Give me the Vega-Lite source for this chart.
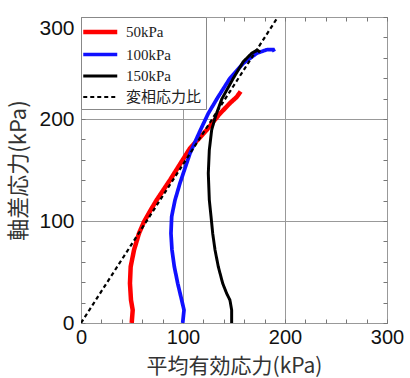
{
  "$schema": "https://vega.github.io/schema/vega-lite/v6.json",
  "autosize": {"type": "none"},
  "padding": {"left": 81, "top": 17, "right": 23, "bottom": 55},
  "width": 306,
  "height": 306,
  "background": "white",
  "config": {
    "view": {"stroke": "#777", "strokeWidth": 1},
    "axis": {"domain": false}
  },
  "data": {
    "values": [
      {"s": "50kPa", "i": 0, "p": 49.7, "q": 0},
      {"s": "50kPa", "i": 1, "p": 50.7, "q": 12.7},
      {"s": "50kPa", "i": 2, "p": 49, "q": 22.5},
      {"s": "50kPa", "i": 3, "p": 48, "q": 38.9},
      {"s": "50kPa", "i": 4, "p": 48.7, "q": 55.2},
      {"s": "50kPa", "i": 5, "p": 52, "q": 71.6},
      {"s": "50kPa", "i": 6, "p": 56.9, "q": 88},
      {"s": "50kPa", "i": 7, "p": 61.8, "q": 99.3},
      {"s": "50kPa", "i": 8, "p": 69.3, "q": 112.4},
      {"s": "50kPa", "i": 9, "p": 74.2, "q": 120.6},
      {"s": "50kPa", "i": 10, "p": 87.3, "q": 140.2},
      {"s": "50kPa", "i": 11, "p": 106.9, "q": 171.3},
      {"s": "50kPa", "i": 12, "p": 123.2, "q": 189.2},
      {"s": "50kPa", "i": 13, "p": 135.5, "q": 204.5},
      {"s": "50kPa", "i": 14, "p": 146, "q": 215.5},
      {"s": "50kPa", "i": 15, "p": 152.6, "q": 221.5},
      {"s": "50kPa", "i": 16, "p": 156.5, "q": 227},
      {"s": "100kPa", "i": 0, "p": 99.7, "q": 0},
      {"s": "100kPa", "i": 1, "p": 101, "q": 12.7},
      {"s": "100kPa", "i": 2, "p": 98.7, "q": 22.5},
      {"s": "100kPa", "i": 3, "p": 94.8, "q": 38.9},
      {"s": "100kPa", "i": 4, "p": 91.5, "q": 55.2},
      {"s": "100kPa", "i": 5, "p": 89.2, "q": 71.6},
      {"s": "100kPa", "i": 6, "p": 88.2, "q": 88},
      {"s": "100kPa", "i": 7, "p": 88.9, "q": 104.3},
      {"s": "100kPa", "i": 8, "p": 90.5, "q": 112.4},
      {"s": "100kPa", "i": 9, "p": 92.2, "q": 120.6},
      {"s": "100kPa", "i": 10, "p": 97, "q": 137},
      {"s": "100kPa", "i": 11, "p": 106.9, "q": 166.4},
      {"s": "100kPa", "i": 12, "p": 117, "q": 189},
      {"s": "100kPa", "i": 13, "p": 124.8, "q": 205.5},
      {"s": "100kPa", "i": 14, "p": 134, "q": 221},
      {"s": "100kPa", "i": 15, "p": 146, "q": 239.9},
      {"s": "100kPa", "i": 16, "p": 159.1, "q": 254.6},
      {"s": "100kPa", "i": 17, "p": 172.2, "q": 264.4},
      {"s": "100kPa", "i": 18, "p": 182, "q": 267.9},
      {"s": "100kPa", "i": 19, "p": 188.5, "q": 268},
      {"s": "100kPa", "i": 20, "p": 189.5, "q": 266},
      {"s": "150kPa", "i": 0, "p": 147.7, "q": 0},
      {"s": "150kPa", "i": 1, "p": 147.7, "q": 12.7},
      {"s": "150kPa", "i": 2, "p": 146, "q": 22.5},
      {"s": "150kPa", "i": 3, "p": 142.8, "q": 29},
      {"s": "150kPa", "i": 4, "p": 138.9, "q": 38.9},
      {"s": "150kPa", "i": 5, "p": 134.6, "q": 55.2},
      {"s": "150kPa", "i": 6, "p": 131.4, "q": 71.6},
      {"s": "150kPa", "i": 7, "p": 129.1, "q": 88},
      {"s": "150kPa", "i": 8, "p": 127.5, "q": 104.3},
      {"s": "150kPa", "i": 9, "p": 125.8, "q": 120.6},
      {"s": "150kPa", "i": 10, "p": 124.8, "q": 146.8},
      {"s": "150kPa", "i": 11, "p": 125.8, "q": 169.6},
      {"s": "150kPa", "i": 12, "p": 128.1, "q": 189.2},
      {"s": "150kPa", "i": 13, "p": 132, "q": 203},
      {"s": "150kPa", "i": 14, "p": 138, "q": 219.5},
      {"s": "150kPa", "i": 15, "p": 149.3, "q": 239.9},
      {"s": "150kPa", "i": 16, "p": 159.1, "q": 256.2},
      {"s": "150kPa", "i": 17, "p": 167.3, "q": 264.4},
      {"s": "150kPa", "i": 18, "p": 172.9, "q": 267.6},
      {"s": "150kPa", "i": 19, "p": 175.5, "q": 265.4},
      {"s": "変相応力比", "i": 0, "p": 0, "q": 0},
      {"s": "変相応力比", "i": 1, "p": 193, "q": 300}
    ]
  },
  "resolve": {"axis": {"x": "independent", "y": "independent"}},
  "layer": [
    {
      "mark": {"type": "line", "clip": true},
      "encoding": {
        "x": {
          "field": "p", "type": "quantitative",
          "scale": {"domain": [0, 300], "nice": false, "zero": false},
          "axis": {
            "orient": "bottom",
            "values": [0, 20, 40, 60, 80, 100, 120, 140, 160, 180, 200, 220, 240, 260, 280, 300],
            "labelExpr": "datum.value % 100 === 0 ? datum.label : ''",
            "labelFlush": false,
            "labelOverlap": false,
            "labelFont": "Liberation Sans",
            "labelFontSize": 20,
            "labelColor": "#111",
            "labelPadding": 8,
            "tickSize": -4,
            "tickColor": "#777",
            "grid": true,
            "gridColor": "#999",
            "gridOpacity": {"condition": {"test": "datum.value % 100 === 0", "value": 1}, "value": 0},
            "title": "平均有効応力(kPa)",
            "titleFont": "Noto Sans CJK JP",
            "titleFontSize": 21,
            "titleFontWeight": "normal",
            "titleColor": "#333",
            "titlePadding": 8
          }
        },
        "y": {
          "field": "q", "type": "quantitative",
          "scale": {"domain": [0, 300], "nice": false, "zero": false},
          "axis": {
            "orient": "left",
            "values": [0, 20, 40, 60, 80, 100, 120, 140, 160, 180, 200, 220, 240, 260, 280, 300],
            "labelExpr": "datum.value % 100 === 0 ? datum.label : ''",
            "labelFlush": false,
            "labelOverlap": false,
            "labelFont": "Liberation Sans",
            "labelFontSize": 21,
            "labelColor": "#111",
            "labelPadding": 11,
            "labelBaseline": {"condition": {"test": "datum.value === 300", "value": "top"}, "value": "middle"},
            "tickSize": -4,
            "tickColor": "#777",
            "grid": true,
            "gridColor": "#999",
            "gridOpacity": {"condition": {"test": "datum.value % 100 === 0", "value": 1}, "value": 0},
            "title": "軸差応力(kPa)",
            "titleFont": "Noto Sans CJK JP",
            "titleFontSize": 22,
            "titleFontWeight": "normal",
            "titleColor": "#333",
            "titlePadding": 8
          }
        },
        "order": {"field": "i", "type": "quantitative"},
        "color": {
          "field": "s", "type": "nominal",
          "scale": {"domain": ["50kPa", "100kPa", "150kPa", "変相応力比"], "range": ["#ff0000", "#1010ff", "#000000", "#000000"]},
          "legend": {
            "title": null,
            "orient": "top-left",
            "offset": 0,
            "symbolType": "M-1.5,0H2.5",
            "symbolSize": 289,
            "symbolFillColor": "transparent",
            "labelFont": "Liberation Serif",
            "labelFontSize": 15,
            "labelColor": "#222",
            "fillColor": "white",
            "strokeColor": "#888",
            "padding": 4,
            "rowPadding": 3,
            "labelOffset": 19,
            "encode": {
              "labels": {
                "update": {
                  "fontSize": {"signal": "datum.label === '変相応力比' ? 15 : 15"},
                  "font": {"signal": "datum.label === '変相応力比' ? 'Noto Sans CJK JP' : 'Liberation Serif'"}
                }
              }
            }
          }
        },
        "strokeDash": {
          "field": "s", "type": "nominal",
          "scale": {"domain": ["50kPa", "100kPa", "150kPa", "変相応力比"], "range": [[1, 0], [1, 0], [1, 0], [4, 3]]},
          "legend": {"title": null}
        },
        "strokeWidth": {
          "field": "s", "type": "nominal",
          "scale": {"domain": ["50kPa", "100kPa", "150kPa", "変相応力比"], "range": [4.5, 2.2, 2.2, 2]},
          "legend": {"title": null}
        }
      }
    },
    {
      "mark": {"type": "point", "opacity": 0},
      "encoding": {
        "x": {
          "field": "p", "type": "quantitative",
          "axis": {
            "orient": "top",
            "values": [0, 20, 40, 60, 80, 100, 120, 140, 160, 180, 200, 220, 240, 260, 280, 300],
            "labels": false, "tickSize": -4, "tickColor": "#777", "grid": false, "title": null
          }
        },
        "y": {
          "field": "q", "type": "quantitative",
          "axis": {
            "orient": "right",
            "values": [0, 20, 40, 60, 80, 100, 120, 140, 160, 180, 200, 220, 240, 260, 280, 300],
            "labels": false, "tickSize": -4, "tickColor": "#777", "grid": false, "title": null
          }
        }
      }
    }
  ]
}
